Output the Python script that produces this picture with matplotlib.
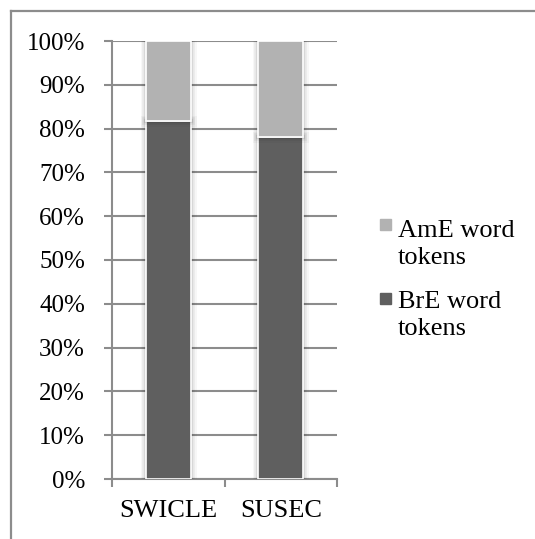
import matplotlib
matplotlib.use("Agg")
import matplotlib.pyplot as plt
import matplotlib.patheffects as pe
from matplotlib.lines import Line2D
from matplotlib.patches import Rectangle
from matplotlib.ticker import FixedLocator, PercentFormatter

plt.rcParams['font.family'] = ['Liberation Serif', 'DejaVu Serif']

categories = ["SWICLE", "SUSEC"]
bre_share = [81.7, 78.1]
ame_share = [18.3, 21.9]
series_names = ["BrE word tokens", "AmE word tokens"]
y_ticks = [0, 10, 20, 30, 40, 50, 60, 70, 80, 90, 100]

dark = "#5f5f5f"
light = "#b2b2b2"
grid_gray = "#8c8c8c"
FS = 19

W, H = 535, 539
fig = plt.figure(figsize=(W / 100, H / 100), dpi=100)


def fx(px):
    return px / W


def fy(py):
    return 1 - py / H


# outer chart-area border (left and top edges)
fig.add_artist(Line2D([fx(11), fx(11)], [0, fy(11)], transform=fig.transFigure,
                      color=grid_gray, lw=1.6))
fig.add_artist(Line2D([fx(11), 1], [fy(11), fy(11)], transform=fig.transFigure,
                      color=grid_gray, lw=1.6))

ax = fig.add_axes([fx(112), fy(479), fx(337) - fx(112), fy(41) - fy(479)])

x = list(range(len(categories)))
shadow = [pe.Stroke(linewidth=8, foreground="black", alpha=0.03),
          pe.Stroke(linewidth=5.5, foreground="black", alpha=0.05),
          pe.Stroke(linewidth=3, foreground="black", alpha=0.08),
          pe.Normal()]

bars_bre = ax.bar(x, bre_share, width=0.4, color=dark, edgecolor="white",
                  linewidth=1.2, zorder=3, label=series_names[0])
bars_ame = ax.bar(x, ame_share, width=0.4, bottom=bre_share, color=light,
                  edgecolor="white", linewidth=1.2, zorder=3, label=series_names[1])
for b in list(bars_bre) + list(bars_ame):
    b.set_path_effects(shadow)

ax.set_xlim(-0.5, len(categories) - 0.5)
ax.set_ylim(0, 100)
ax.yaxis.set_major_locator(FixedLocator(y_ticks))
ax.yaxis.set_major_formatter(PercentFormatter(decimals=0))
ax.set_xticks(x)
ax.set_xticklabels(categories)
ax.xaxis.set_minor_locator(FixedLocator([-0.5, 0.5, 1.5]))

ax.grid(axis="y", color=grid_gray, lw=1.5, zorder=0)
ax.set_axisbelow(True)
for side in ["top", "right"]:
    ax.spines[side].set_visible(False)
for side in ["left", "bottom"]:
    ax.spines[side].set_color(grid_gray)
    ax.spines[side].set_linewidth(1.5)

ax.tick_params(axis="y", direction="out", length=6, width=1.5, color=grid_gray,
               labelsize=18, pad=13.5, labelcolor="black")
ax.tick_params(axis="x", which="major", length=0, labelsize=FS, pad=15,
               labelcolor="black")
ax.tick_params(axis="x", which="minor", direction="out", length=6, width=1.5,
               color=grid_gray)

# legend: square swatch aligned with the first line of each wrapped label
legend_items = [
    (light, ["AmE word", "tokens"], 219, 237),
    (dark, ["BrE word", "tokens"], 293, 308),
]
for color, lines, sq_top, baseline in legend_items:
    fig.add_artist(Rectangle((fx(380), fy(sq_top + 11)), fx(11), fy(sq_top) - fy(sq_top + 11),
                             transform=fig.transFigure, color=color))
    for i, line in enumerate(lines):
        fig.text(fx(398), fy(baseline + 27 * i), line, fontsize=FS,
                 ha="left", va="baseline", color="black")

fig.savefig("out.png", dpi=100)
